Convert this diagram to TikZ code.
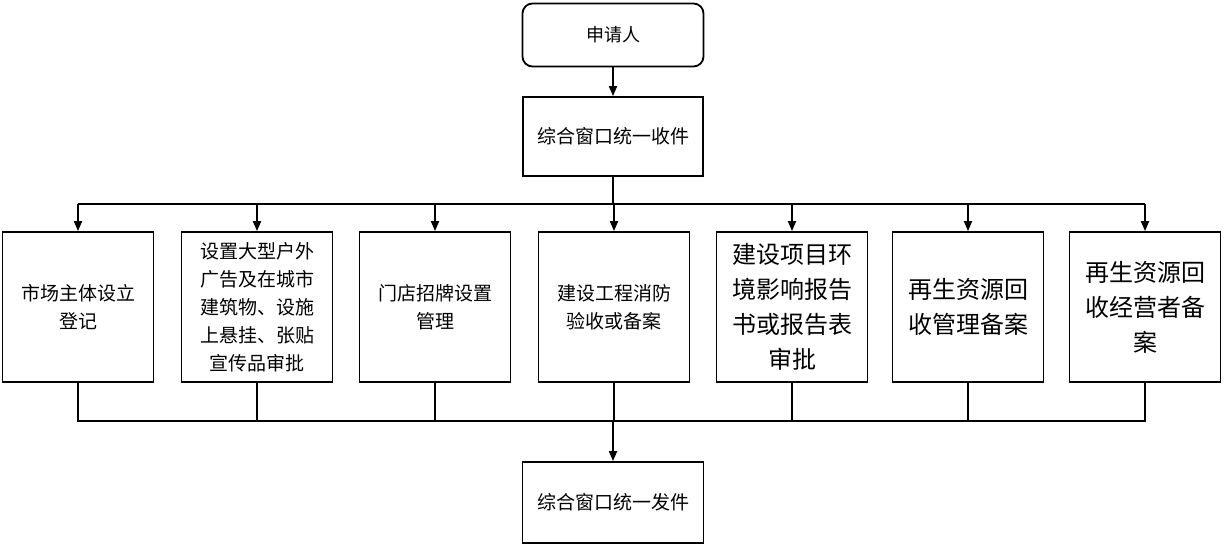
\documentclass[tikz,border=0pt]{standalone}
\usepackage{fontspec}
\usepackage{tikz}
\usetikzlibrary{arrows.meta}
\newfontfamily\cjk{Noto Sans CJK SC}

\begin{document}
\begin{tikzpicture}[x=1pt, y=-1pt, line width=1.8pt,
    box/.style={rectangle, draw, inner sep=0pt, align=center, font=\cjk\fontsize{19}{28}\selectfont},
    item/.style={box, minimum width=151pt, minimum height=150pt},
    bigitem/.style={item, font=\cjk\fontsize{24}{35}\selectfont},
    arr/.style={-{Triangle[length=10pt,width=8pt]}}]
    \useasboundingbox (0,0) rectangle (1230,546);
    \node[box, rounded corners=10pt, minimum width=181pt, minimum height=63pt, font=\cjk\fontsize{18}{26}\selectfont] (sqr) at (613,35) {申请人};
    \node[box, minimum width=180pt, minimum height=79pt] (shou) at (613,136.5) {综合窗口统一收件};
    \node[item] (b1) at (78,307) {市场主体设立\\登记};
    \node[item] (b2) at (257,307) {设置大型户外\\广告及在城市\\建筑物、设施\\上悬挂、张贴\\宣传品审批};
    \node[item] (b3) at (435,307) {门店招牌设置\\管理};
    \node[item] (b4) at (614,307) {建设工程消防\\验收或备案};
    \node[bigitem] (b5) at (792,307) {建设项目环\\境影响报告\\书或报告表\\审批};
    \node[bigitem] (b6) at (968,307) {再生资源回\\收管理备案};
    \node[bigitem] (b7) at (1145,307) {再生资源回\\收经营者备\\案};
    \node[box, minimum width=181pt, minimum height=81pt] (fa) at (613,502.5) {综合窗口统一发件};
    \coordinate (fork) at (613,204);
    \coordinate (join) at (613,421);

    \draw[arr] (sqr) -- (shou);
    \draw (shou) -- (fork);
    \draw (fork -| b1.north) -- (fork -| b7.north);
    \draw[arr] (fork -| b1.north) -- (b1.north);
    \draw[arr] (fork -| b2.north) -- (b2.north);
    \draw[arr] (fork -| b3.north) -- (b3.north);
    \draw[arr] (fork -| b4.north) -- (b4.north);
    \draw[arr] (fork -| b5.north) -- (b5.north);
    \draw[arr] (fork -| b6.north) -- (b6.north);
    \draw[arr] (fork -| b7.north) -- (b7.north);

    \draw (b1.south) -- (join -| b1.south) -- (join -| b7.south) -- (b7.south);
    \draw (b2.south) -- (join -| b2.south);
    \draw (b3.south) -- (join -| b3.south);
    \draw (b4.south) -- (join -| b4.south);
    \draw (b5.south) -- (join -| b5.south);
    \draw (b6.south) -- (join -| b6.south);
    \draw[arr] (join) -- (fa);
\end{tikzpicture}
\end{document}
